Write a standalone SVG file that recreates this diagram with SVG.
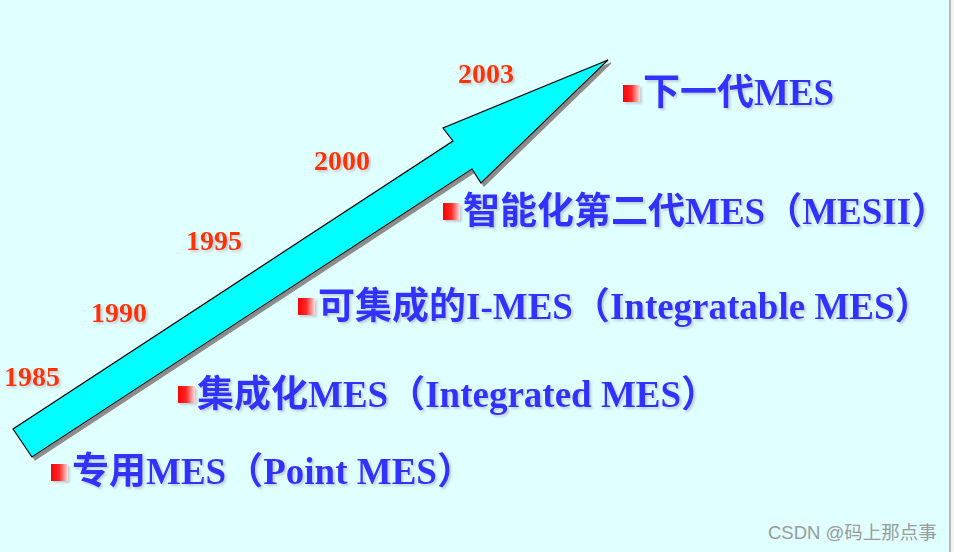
<svg xmlns="http://www.w3.org/2000/svg" width="954" height="552" viewBox="0 0 954 552">
<defs>
<linearGradient id="bul" x1="0" y1="0" x2="1" y2="0">
<stop offset="0" stop-color="#ff0000"/>
<stop offset="0.5" stop-color="#ff2a2a"/>
<stop offset="1" stop-color="#ffe0e0"/>
</linearGradient>
<filter id="sh" x="-10%" y="-20%" width="130%" height="150%">
<feDropShadow dx="2" dy="2" stdDeviation="0.8" flood-color="#9a9aaa" flood-opacity="0.45"/>
</filter>
<filter id="ash" x="-10%" y="-10%" width="130%" height="130%">
<feDropShadow dx="3" dy="3" stdDeviation="0.4" flood-color="#8c8c8c" flood-opacity="1"/>
</filter>
<style>
.yr{font-family:"Liberation Serif","Noto Sans CJK SC",serif;font-weight:bold;font-size:28px;fill:#ff3300;filter:url(#sh)}
.lb{font-family:"Liberation Serif","Noto Sans CJK SC",serif;font-weight:bold;font-size:37px;fill:#3333ff;filter:url(#sh)}
.bu{fill:url(#bul);filter:url(#sh)}
.wm{font-family:"Liberation Sans","Noto Sans CJK SC",sans-serif;font-size:18.5px;fill:#9a9a9a}
</style>
</defs>
<rect x="0" y="0" width="954" height="552" fill="#e0ffff"/>
<rect x="949" y="0" width="5" height="552" fill="#f4f4f4"/>
<line x1="950" y1="0" x2="950" y2="552" stroke="#b8b8b8" stroke-width="2"/>
<g id="connectors">
<polygon id="arrow" points="13,429 453,141 443,128 608,60 481,183 472,169 32,457" fill="#00ffff" stroke="#000" stroke-width="1.2" stroke-linejoin="miter" filter="url(#ash)"/>
</g>
<g id="years">
<text class="yr" x="458" y="83">2003</text>
<text class="yr" x="314" y="170">2000</text>
<text class="yr" x="186" y="250">1995</text>
<text class="yr" x="91" y="322">1990</text>
<text class="yr" x="4" y="386">1985</text>
</g>
<g id="n5">
<rect class="bu" x="623" y="85" width="17" height="17"/>
<text class="lb" x="643" y="105">下一代MES</text>
</g>
<g id="n4">
<rect class="bu" x="443" y="203" width="17" height="17"/>
<text class="lb" x="463" y="224">智能化第二代MES（MESII）</text>
</g>
<g id="n3">
<rect class="bu" x="298" y="298" width="17" height="17"/>
<text class="lb" x="318" y="319">可集成的I-MES（Integratable MES）</text>
</g>
<g id="n2">
<rect class="bu" x="178" y="386" width="17" height="17"/>
<text class="lb" x="197" y="407">集成化MES（Integrated MES）</text>
</g>
<g id="n1">
<rect class="bu" x="51" y="464" width="17" height="17"/>
<text class="lb" x="72" y="484">专用MES（Point MES）</text>
</g>
<text class="wm" x="768" y="539">CSDN @码上那点事</text>
</svg>
